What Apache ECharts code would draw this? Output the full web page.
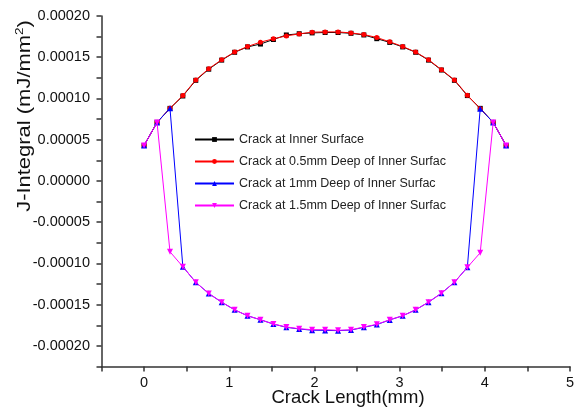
<!DOCTYPE html>
<html>
<head>
<meta charset="utf-8">
<script src="https://cdn.jsdelivr.net/npm/echarts@6/dist/echarts.min.js"></script>
<style>html,body{margin:0;padding:0;background:#fff;}#c{width:582px;height:408px;}</style>
</head>
<body>
<div id="c"></div>
<script>
// Crack length positions (mm)
var xValues = [0, 0.152, 0.304, 0.455, 0.607, 0.759, 0.911, 1.063, 1.214, 1.366, 1.518, 1.670, 1.821, 1.973, 2.125, 2.277, 2.429, 2.580, 2.732, 2.884, 3.036, 3.188, 3.339, 3.491, 3.643, 3.795, 3.946, 4.098, 4.250];

var seriesNames = ['Crack at Inner Surface', 'Crack at 0.5mm Deep of Inner Surfac', 'Crack at 1mm Deep of Inner Surfac', 'Crack at 1.5mm Deep of Inner Surfac'];

var innerSurface = [4.3e-5, 7.1e-5, 8.8e-5, 1.03e-4, 1.22e-4, 1.355e-4, 1.465e-4, 1.56e-4, 1.625e-4, 1.66e-4, 1.715e-4, 1.77e-4, 1.785e-4, 1.795e-4, 1.80e-4, 1.80e-4, 1.79e-4, 1.77e-4, 1.725e-4, 1.68e-4, 1.625e-4, 1.56e-4, 1.465e-4, 1.345e-4, 1.22e-4, 1.035e-4, 8.8e-5, 7.1e-5, 4.3e-5];

var deep05 = [4.3e-5, 7.1e-5, 8.8e-5, 1.036e-4, 1.225e-4, 1.361e-4, 1.470e-4, 1.563e-4, 1.630e-4, 1.683e-4, 1.723e-4, 1.759e-4, 1.783e-4, 1.804e-4, 1.807e-4, 1.807e-4, 1.795e-4, 1.775e-4, 1.739e-4, 1.687e-4, 1.630e-4, 1.563e-4, 1.470e-4, 1.349e-4, 1.225e-4, 1.040e-4, 8.76e-5, 7.1e-5, 4.3e-5];

var deep1 = [4.3e-5, 7.1e-5, 8.8e-5, -1.040e-4, -1.229e-4, -1.365e-4, -1.470e-4, -1.563e-4, -1.635e-4, -1.683e-4, -1.735e-4, -1.775e-4, -1.795e-4, -1.810e-4, -1.812e-4, -1.815e-4, -1.808e-4, -1.775e-4, -1.742e-4, -1.685e-4, -1.635e-4, -1.563e-4, -1.470e-4, -1.361e-4, -1.229e-4, -1.048e-4, 8.76e-5, 7.1e-5, 4.3e-5];

var deep15 = [4.3e-5, 7.1e-5, -8.59e-5, -1.040e-4, -1.229e-4, -1.365e-4, -1.470e-4, -1.563e-4, -1.635e-4, -1.683e-4, -1.735e-4, -1.771e-4, -1.792e-4, -1.804e-4, -1.804e-4, -1.811e-4, -1.805e-4, -1.771e-4, -1.739e-4, -1.683e-4, -1.635e-4, -1.563e-4, -1.470e-4, -1.361e-4, -1.229e-4, -1.048e-4, -8.71e-5, 7.1e-5, 4.3e-5];

var xTickLabels = ['0', '1', '2', '3', '4', '5'];
var yTickLabels = ['-0.00020', '-0.00015', '-0.00010', '-0.00005', '0.00000', '0.00005', '0.00010', '0.00015', '0.00020'];

function pairs(ys) { return ys.map(function (y, i) { return [xValues[i], y]; }); }

var FONT = 'Liberation Sans, Arial, sans-serif';
var chart = echarts.init(document.getElementById('c'), null, { renderer: 'canvas' });

function yMajor(v) { return Math.abs(Math.round(v / 0.000025)) % 2 === 0; }
function xMajor(v) { return Math.abs(Math.round(v / 0.5)) % 2 === 0; }

var axisLineStyle = { color: '#333', width: 1.5 };

var option = {
  backgroundColor: '#fff',
  animation: false,
  grid: { left: 101.5, right: 12, top: 16, bottom: 41.5, containLabel: false },
  xAxis: [
    {
      type: 'value', min: -0.5, max: 5, interval: 0.5,
      splitLine: { show: false },
      axisLine: { onZero: false, lineStyle: axisLineStyle },
      axisTick: { show: true, inside: false, length: 5, lineStyle: axisLineStyle,
        interval: function (i, v) { return xMajor(v); } },
      axisLabel: { interval: 0, margin: 9, color: '#111', fontSize: 14.5, fontFamily: FONT,
        showMinLabel: true, showMaxLabel: true,
        formatter: function (v) {
          if (!xMajor(v) || v < 0) return '';
          return xTickLabels[Math.round(v)];
        } }
    },
    {
      type: 'value', min: -0.5, max: 5, interval: 0.5, position: 'bottom',
      splitLine: { show: false },
      axisLine: { show: false, onZero: false },
      axisTick: { show: true, length: 3, lineStyle: axisLineStyle,
        interval: function (i, v) { return !xMajor(v); } },
      axisLabel: { show: false }
    }
  ],
  yAxis: [
    {
      type: 'value', min: -0.000225, max: 0.0002, interval: 0.000025,
      splitLine: { show: false },
      axisLine: { show: true, onZero: false, lineStyle: axisLineStyle },
      axisTick: { show: true, length: 5, lineStyle: axisLineStyle,
        interval: function (i, v) { return yMajor(v); } },
      axisLabel: { interval: 0, margin: 11.5, color: '#111', fontSize: 14.5, fontFamily: FONT,
        showMinLabel: true, showMaxLabel: true,
        formatter: function (v) {
          if (!yMajor(v)) return '';
          var k = Math.round(v / 0.00005) + 4;
          return yTickLabels[k] || '';
        } }
    },
    {
      type: 'value', min: -0.000225, max: 0.0002, interval: 0.000025, position: 'left',
      splitLine: { show: false },
      axisLine: { show: false, onZero: false },
      axisTick: { show: true, length: 3, lineStyle: axisLineStyle,
        interval: function (i, v) { return !yMajor(v); } },
      axisLabel: { show: false }
    }
  ],
  legend: {
    orient: 'vertical', left: 194, top: 133, padding: 0,
    itemWidth: 39, itemHeight: 6, itemGap: 9,
    textStyle: { fontSize: 12.5, color: '#222', fontFamily: FONT },
    data: seriesNames
  },
  series: [
    { name: seriesNames[0], type: 'line', data: pairs(innerSurface), color: '#000000',
      symbol: 'rect', symbolSize: 5, lineStyle: { width: 1 }, z: 2 },
    { name: seriesNames[1], type: 'line', data: pairs(deep05), color: '#ff0000',
      symbol: 'circle', symbolSize: 5, lineStyle: { width: 1 }, z: 3 },
    { name: seriesNames[2], type: 'line', data: pairs(deep1), color: '#0000ff',
      symbol: 'triangle', symbolSize: 6, lineStyle: { width: 1 }, z: 4 },
    { name: seriesNames[3], type: 'line', data: pairs(deep15), color: '#ff00ff',
      symbol: 'triangle', symbolRotate: 180, symbolSize: 6, lineStyle: { width: 1 }, z: 5 }
  ],
  graphic: [
    { type: 'text', x: 24, y: 116, rotation: Math.PI / 2, scaleX: 1.22,
      style: { text: '{a|J-Integral (mJ/mm}{s|2}{a|)}', align: 'center', verticalAlign: 'middle',
        rich: { a: { fontSize: 18, fontFamily: FONT, fill: '#111', verticalAlign: 'bottom' },
                s: { fontSize: 11, fontFamily: FONT, fill: '#111', verticalAlign: 'top', padding: [0, 0, 9, 0] } } } },
    { type: 'text', x: 348, y: 398,
      style: { text: 'Crack Length(mm)', align: 'center', verticalAlign: 'middle',
        fontSize: 18.5, fontFamily: FONT, fill: '#111' } }
  ]
};
chart.setOption(option);
</script>
</body>
</html>
